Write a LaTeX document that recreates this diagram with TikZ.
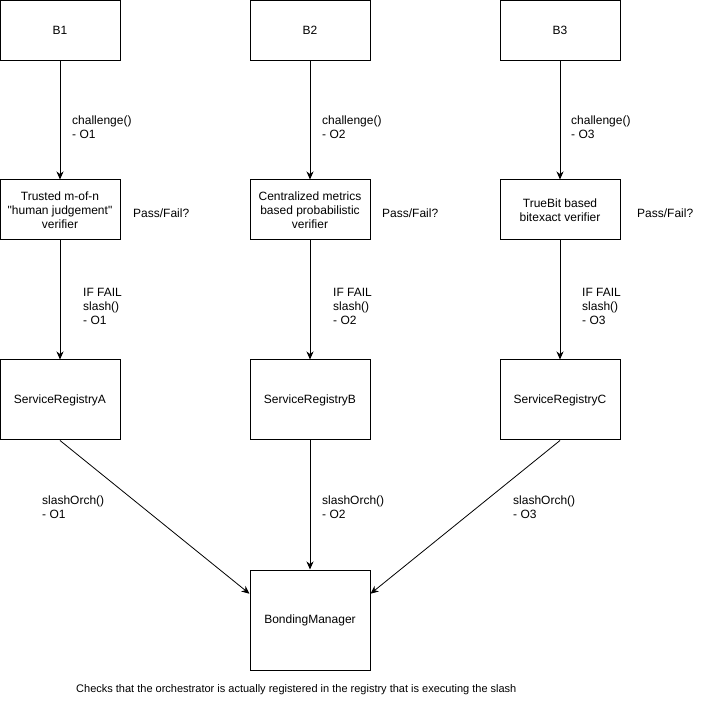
\documentclass[tikz,border=0pt]{standalone}
\usepackage{fontspec}
\setmainfont{Liberation Sans}
\newfontfamily\plainsans{Liberation Sans}
\usetikzlibrary{arrows.meta,calc}
\begin{document}
\begin{tikzpicture}[x=1pt,y=-1pt,
  font=\fontsize{12pt}{14pt}\selectfont,
  box/.style={draw,line width=1pt,minimum width=120pt,minimum height=60pt,inner sep=0pt,align=center},
  lbl/.style={anchor=west,inner sep=0pt,align=left},
  arr/.style={draw,line width=1pt,-{Stealth[length=8pt,width=7pt,inset=2.5pt]}},
  darr/.style={draw,line width=0.8pt,-{Stealth[length=8pt,width=7pt,inset=2.5pt]}}]
\useasboundingbox (0,0) rectangle (705,703);
% top boxes
\node[box] (b1) at (60,30.5) {B1};
\node[box] (b2) at (310,30.5) {B2};
\node[box] (b3) at (560,30.5) {B3};
% verifiers
\node[box] (v1) at (60,210) {\plainsans Trusted m-of-n\\\plainsans "human judgement"\\\plainsans verifier};
\node[box] (v2) at (310,210) {Centralized metrics\\based probabilistic\\verifier};
\node[box] (v3) at (560,210) {TrueBit based\\bitexact verifier};
% registries
\node[box,minimum height=80pt] (ra) at (60,400) {ServiceRegistryA};
\node[box,minimum height=80pt] (rb) at (310,400) {ServiceRegistryB};
\node[box,minimum height=80pt] (rc) at (560,400) {ServiceRegistryC};
% bonding manager
\node[box,minimum height=100pt] (bm) at (310,620) {BondingManager};
% arrows
\draw[arr] (b1) -- (v1);
\draw[arr] (b2) -- (v2);
\draw[arr] (b3) -- (v3);
\draw[arr] (v1) -- (ra);
\draw[arr] (v2) -- (rb);
\draw[arr] (v3) -- (rc);
\draw[arr] (rb) -- (bm);
\draw[darr] (ra.south) -- ($(bm.north west)!0.24!(bm.south west)$);
\draw[darr] (rc.south) -- ($(bm.north east)!0.24!(bm.south east)$);
% labels
\node[lbl] (c1) at (72,127) {challenge()\\- O1};
\node[lbl] (c2) at (322,127) {challenge()\\- O2};
\node[lbl] (c3) at (571,127) {challenge()\\- O3};
\node[lbl] (p1) at (133,213) {Pass/Fail?};
\node[lbl] (p2) at (382,213) {Pass/Fail?};
\node[lbl] (p3) at (637,213) {Pass/Fail?};
\node[lbl] (f1) at (83,306) {IF FAIL\\slash()\\- O1};
\node[lbl] (f2) at (333,306) {IF FAIL\\slash()\\- O2};
\node[lbl] (f3) at (582,306) {IF FAIL\\slash()\\- O3};
\node[lbl] (s1) at (42,507.5) {slashOrch()\\- O1};
\node[lbl] (s2) at (322,507.5) {slashOrch()\\- O2};
\node[lbl] (s3) at (513,507.5) {slashOrch()\\- O3};
\node[lbl,font=\fontsize{11pt}{13pt}\selectfont] (note) at (76,690) {Checks that the orchestrator is actually registered in the registry that is executing the slash};
\end{tikzpicture}
\end{document}
